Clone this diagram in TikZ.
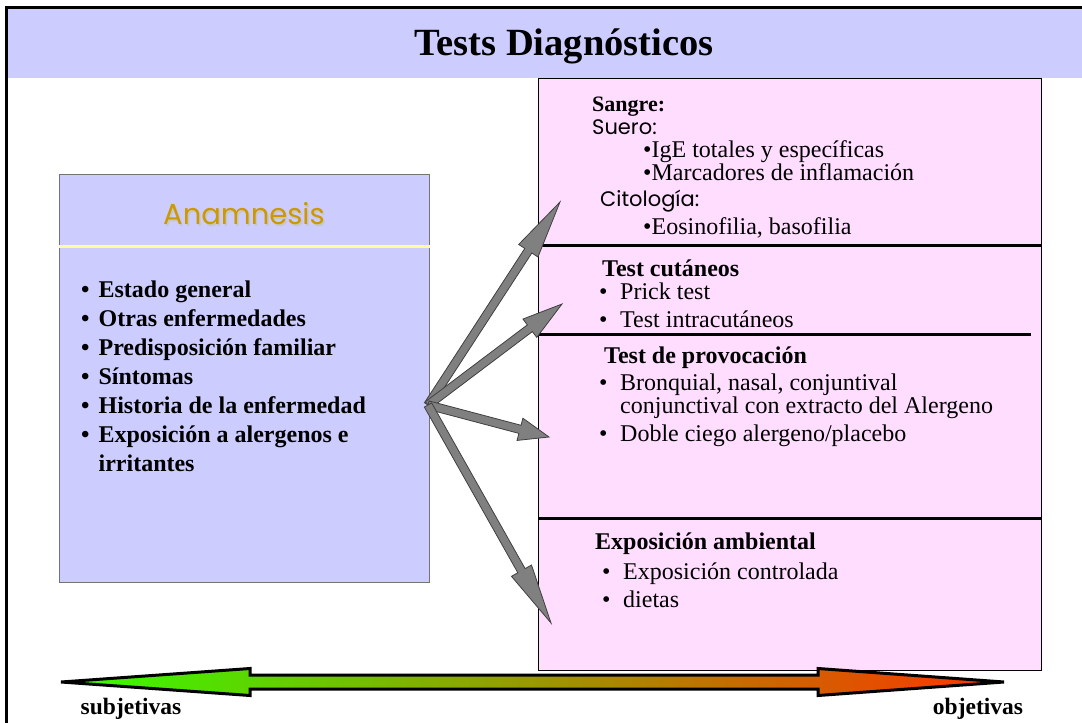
\documentclass[tikz,border=0pt]{standalone}
\usepackage{fontspec}
\setmainfont{Liberation Serif}
\newfontfamily\manofont{Poppins}
\usetikzlibrary{calc}

\definecolor{lavanda}{RGB}{204,204,255}
\definecolor{rosa}{RGB}{255,221,255}
\definecolor{amarillo}{RGB}{255,255,153}
\definecolor{oro}{RGB}{204,153,0}
\definecolor{verde}{RGB}{51,255,0}
\definecolor{oliva}{RGB}{212,186,0}
\definecolor{rojo}{RGB}{255,51,0}

\tikzset{
  caja/.style={anchor=north west, inner sep=0pt, line width=1.2pt},
  linea/.style={anchor=base west, inner sep=0pt, font=\fontsize{24}{24}\selectfont},
  separador/.style={line width=3pt},
  flecha/.style={fill=black!50, draw=black!75, line width=0.8pt, line join=miter},
  etiqueta/.style={anchor=base, inner sep=0pt, font=\bfseries\fontsize{23.5}{24}\selectfont}
}

\newcommand\punto{\makebox[21pt][l]{\textbullet}}
% block arrow from #1 to #2, head is 24% of the length
\newcommand\flechagorda[2]{%
  \coordinate (fg-h) at ($(#2)!0.24!(#1)$);
  \filldraw[flecha] ($(#1)!4.2pt!90:(#2)$) -- ($(fg-h)!4.2pt!90:(#2)$)
    -- ($(fg-h)!11.5pt!90:(#2)$) -- (#2) -- ($(fg-h)!11.5pt!-90:(#2)$)
    -- ($(fg-h)!4.2pt!-90:(#2)$) -- ($(#1)!4.2pt!-90:(#2)$) -- cycle;
}

\begin{document}
\begin{tikzpicture}[x=1pt,y=-1pt]
  \useasboundingbox (0,0) rectangle (1082,723);

  % header band and frame
  \fill[lavanda] (8,8) rectangle (1082,78);
  \draw[line width=3pt] (6.5,723) -- (6.5,7) -- (1082,7);
  \node[anchor=base, font=\bfseries\fontsize{38.5}{40}\selectfont] (titulo) at (564,55) {Tests Diagnósticos};

  % anamnesis
  \node[caja, draw=black!55, fill=lavanda, minimum width=370pt, minimum height=408pt] (anamnesis) at (59,174) {};
  \draw[amarillo, line width=3pt] (anamnesis.west |- 0,246) -- (anamnesis.east |- 0,246);
  \node[anchor=base, text=black!22, font=\manofont\fontsize{29}{29}\selectfont] (sombra) at (245.5,226) {Anamnesis};
  \node[anchor=base, text=oro, font=\manofont\fontsize{29}{29}\selectfont] (anam) at (244,224.5) {Anamnesis};
  \node[anchor=base west, inner sep=0pt, font=\bfseries\fontsize{24}{29}\selectfont] (historia) at (81,297) {%
    \begin{tabular}[t]{@{}l@{\hspace{9pt}}l@{}}
      \textbullet & Estado general\\
      \textbullet & Otras enfermedades\\
      \textbullet & Predisposición familiar\\
      \textbullet & Síntomas\\
      \textbullet & Historia de la enfermedad\\
      \textbullet & Exposición a alergenos e\\
                  & irritantes
    \end{tabular}};

  % tests
  \node[caja, draw=black, fill=rosa, minimum width=503pt, minimum height=592pt] (pruebas) at (538,78) {};
  \draw[separador] (pruebas.west |- 0,245.5) -- (pruebas.east |- 0,245.5);
  \draw[separador] (pruebas.west |- 0,334) -- (1031,334);
  \draw[separador] (pruebas.west |- 0,518) -- (pruebas.east |- 0,518);

  \foreach \nombre/\x/\y/\texto in {
      sangre/592/111/{\bfseries\fontsize{22}{22}\selectfont Sangre:},
      suero/592/134/{\manofont\fontsize{21}{22}\selectfont Suero:},
      ige/643/157/{\textbullet IgE totales y específicas},
      marcadores/643/180/{\textbullet Marcadores de inflamación},
      citologia/600/206/{\manofont\fontsize{21}{22}\selectfont Citología:},
      eosinofilia/643/234/{\textbullet Eosinofilia, basofilia},
      cutaneos/602/276/{\bfseries Test cutáneos},
      prick/599/299/{\punto Prick test},
      intra/599/327/{\punto Test intracutáneos},
      provocacion/604/363/{\bfseries Test de provocación},
      bronquial/599/390/{\punto Bronquial, nasal, conjuntival},
      conjuntival/620/413/{conjunctival con extracto del Alergeno},
      doble/599/441/{\punto Doble ciego alergeno/placebo},
      ambiental/595/549/{\bfseries Exposición ambiental},
      controlada/602/579/{\punto Exposición controlada},
      dietas/602/607/{\punto dietas}}
    \node[linea] (\nombre) at (\x,\y) {\texto};

  % arrows from the history to each test
  \coordinate (origen) at (428,405);
  \coordinate (a-sangre) at (560,202);
  \coordinate (a-cutaneos) at (562,304);
  \coordinate (a-provocacion) at (549,437);
  \coordinate (a-ambiental) at (551,623);
  \flechagorda{origen}{a-sangre}
  \flechagorda{origen}{a-cutaneos}
  \flechagorda{origen}{a-provocacion}
  \flechagorda{origen}{a-ambiental}

  % scale subjective -> objective
  \coordinate (subj) at (61,682);
  \coordinate (obj) at (1004,682);
  \shadedraw[left color=verde, middle color=oliva, right color=rojo, draw=black, line width=3pt, line join=miter]
    (subj) -- (250,668.5) -- (250,675) -- (818,675) -- (818,668.5) -- (obj)
    -- (818,695.5) -- (818,689) -- (250,689) -- (250,695.5) -- cycle;
  \node[etiqueta] (subjetivas) at (131,714) {subjetivas};
  \node[etiqueta] (objetivas) at (978,714) {objetivas};
\end{tikzpicture}
\end{document}
